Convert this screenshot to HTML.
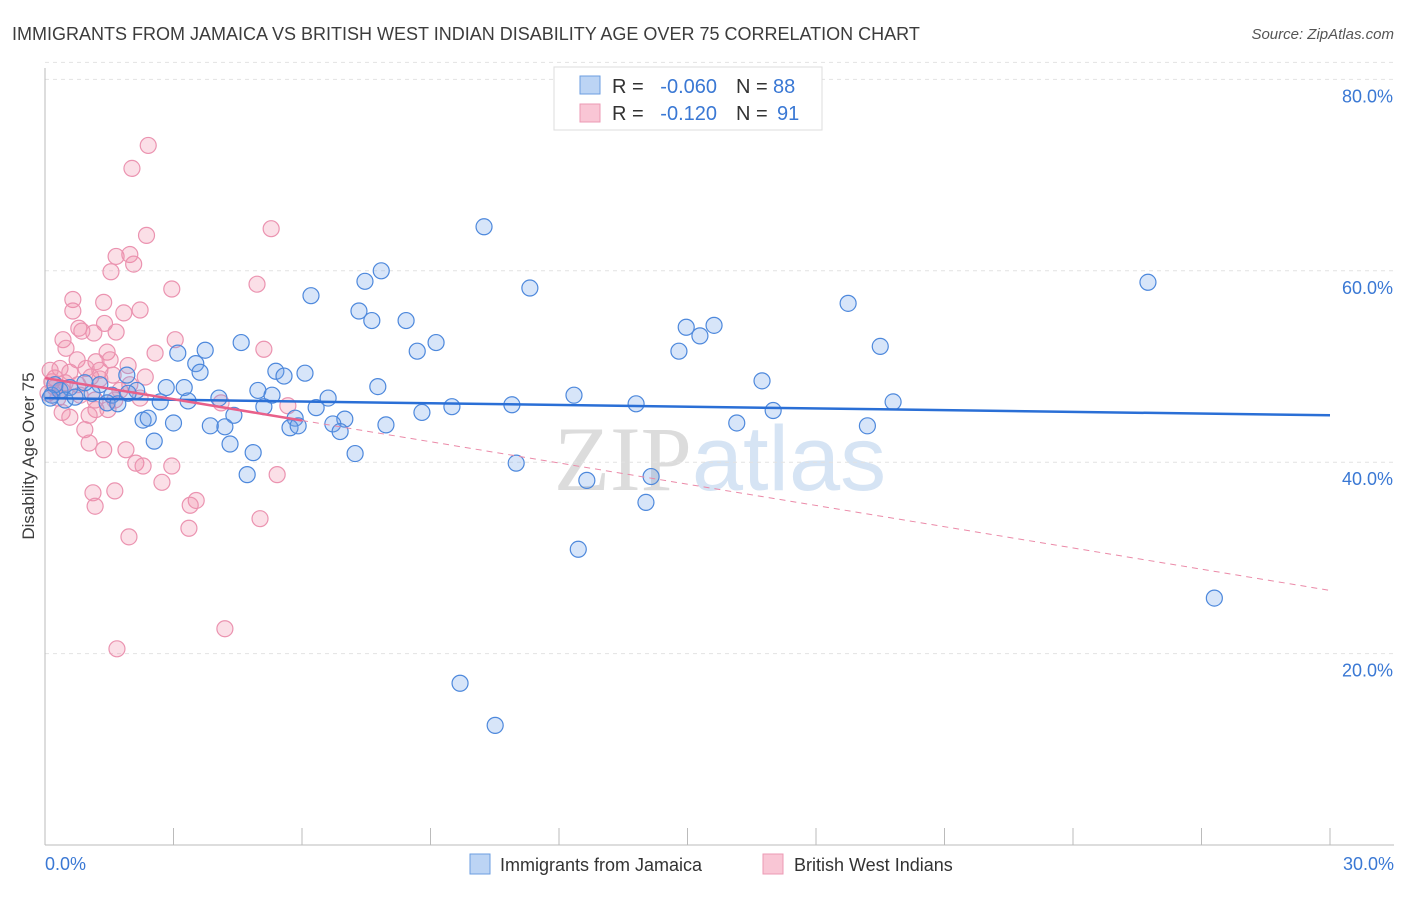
<!DOCTYPE html>
<html><head><meta charset="utf-8"><style>
body{margin:0;background:#fff;font-family:"Liberation Sans",sans-serif;}
svg text{font-family:"Liberation Sans",sans-serif;}
</style></head><body>
<svg id="chart" width="1406" height="892" viewBox="0 0 1406 892" xmlns="http://www.w3.org/2000/svg">
<text x="12" y="40" font-size="18" fill="#3c3c3c">IMMIGRANTS FROM JAMAICA VS BRITISH WEST INDIAN DISABILITY AGE OVER 75 CORRELATION CHART</text>
<text x="1394" y="39" font-size="15" fill="#555" text-anchor="end" font-style="italic">Source: ZipAtlas.com</text>
<text x="720" y="490" font-size="92" text-anchor="middle" fill="#e6e6e6"><tspan font-family="Liberation Serif" fill="#dcdcdc">ZIP</tspan><tspan fill="#d6e4f4">atlas</tspan></text>
<g id="grid"></g>
<g id="axes"></g>
<g id="pts"></g>
<g id="trends"></g>
<text transform="translate(34,456) rotate(-90)" font-size="17" fill="#3c3c3c" text-anchor="middle">Disability Age Over 75</text>
<g>
<rect x="554" y="67" width="268" height="63" fill="#fff" stroke="#ddd"/>
<rect x="580" y="76" width="20" height="18" fill="#bcd4f4" stroke="#6b9ee0"/>
<rect x="580" y="104" width="20" height="18" fill="#f9c6d5" stroke="#ec9ab4"/>
<text x="612" y="93" font-size="20" fill="#333">R =</text>
<text x="717" y="93" font-size="20" fill="#3a78d4" text-anchor="end">-0.060</text>
<text x="736" y="93" font-size="20" fill="#333">N =</text>
<text x="773" y="93" font-size="20" fill="#3a78d4">88</text>
<text x="612" y="120" font-size="20" fill="#333">R =</text>
<text x="717" y="120" font-size="20" fill="#3a78d4" text-anchor="end">-0.120</text>
<text x="736" y="120" font-size="20" fill="#333">N =</text>
<text x="777" y="120" font-size="20" fill="#3a78d4">91</text>
</g>
<g>
<rect x="470" y="854" width="20" height="20" fill="#bcd4f4" stroke="#6b9ee0"/>
<text x="500" y="871" font-size="18" fill="#333">Immigrants from Jamaica</text>
<rect x="763" y="854" width="20" height="20" fill="#f9c6d5" stroke="#ec9ab4"/>
<text x="794" y="871" font-size="18" fill="#333">British West Indians</text>
</g>
</svg>
<script>
const yTicks=[20,40,60,80];
const yTickLabels=["20.0%","40.0%","60.0%","80.0%"];
const xTicks=[0,3,6,9,12,15,18,21,24,27,30];
const xEndLabels=["0.0%","30.0%"];
const jamaicaX=[10.25,7.85,7.47,6.21,11.32,25.75,18.75,7.33,7.63,8.43,14.97,15.62,15.29,9.13,4.58,8.69,19.5,14.8,3.74,3.1,3.52,3.62,5.39,5.58,6.07,1.91,16.74,7.77,2.83,3.25,4.97,1.28,2.14,4.06,5.3,6.61,12.35,1.1,1.56,1.94,2.69,3.34,1.45,1.7,5.11,6.33,8.8,9.5,10.9,13.8,17.0,19.8,4.41,5.84,7.0,2.29,2.41,3.0,3.86,4.2,5.72,5.91,6.72,6.89,7.96,16.15,19.2,2.55,4.32,4.86,7.24,11.0,4.72,12.65,14.15,14.03,12.45,27.3,9.69,10.51,0.16,0.35,0.58,0.23,0.47,0.7,0.93,0.12];
const jamaicaY=[64.6,60.0,58.9,57.4,58.2,58.8,56.6,55.8,54.8,54.8,54.1,54.3,53.2,52.5,52.5,51.6,52.1,51.6,51.7,51.4,50.3,49.4,49.5,49.0,49.3,49.1,48.5,47.9,47.8,47.8,47.5,48.1,47.5,46.7,47.0,46.7,47.0,47.2,47.0,47.2,46.3,46.4,46.2,46.1,45.8,45.7,45.2,45.8,46.0,46.1,45.4,46.3,44.9,44.6,44.5,44.4,44.6,44.1,43.8,43.7,43.6,43.8,44.0,43.2,43.9,44.1,43.8,42.2,41.9,41.0,40.9,39.9,38.7,38.1,38.5,35.8,30.9,25.8,16.9,12.5,47.0,47.5,47.8,48.1,46.5,46.8,48.3,46.7];
const bwiX=[2.41,2.03,2.37,5.28,1.66,1.98,2.07,1.54,2.96,4.95,0.65,1.37,0.65,2.22,1.84,1.39,0.79,1.14,0.86,1.66,0.42,3.04,0.49,1.45,2.57,5.11,0.75,1.19,1.52,1.94,0.35,0.96,1.28,0.58,1.59,2.34,0.23,1.07,0.16,0.77,0.4,1.75,0.07,0.3,1.17,2.22,4.11,5.67,1.19,1.47,0.4,0.58,1.03,1.63,0.93,1.03,1.37,1.89,2.12,2.29,2.96,2.73,5.42,1.12,1.63,3.53,3.39,1.17,5.02,3.36,1.96,4.2,1.68,0.12,0.23,0.47,0.82,1.28,1.98];
const bwiY=[73.1,70.7,63.7,64.4,61.5,61.7,60.7,59.9,58.1,58.6,57.0,56.7,55.8,55.9,55.6,54.5,54.0,53.5,53.7,53.6,52.8,52.8,51.9,51.5,51.4,51.8,50.7,50.5,50.7,50.1,49.8,49.8,49.6,49.4,49.1,48.9,48.8,48.9,48.4,48.1,47.5,47.5,47.2,46.7,46.5,46.7,46.2,45.9,45.5,45.5,45.2,44.7,44.9,46.5,43.4,42.0,41.3,41.3,39.9,39.6,39.6,37.9,38.7,36.8,37.0,36.0,35.5,35.4,34.1,33.1,32.2,22.6,20.5,49.6,47.8,48.3,47.0,48.7,48.1];
const jamaicaTrend=[46.7,44.9];
const bwiTrend=[48.8,26.6];
const bwiSolidEnd=6;
const NS="http://www.w3.org/2000/svg";
const X0=45,X1=1330,Y0=845,YPX=9.57;
function sx(v){return X0+(v/30)*(X1-X0);}
function sy(v){return Y0-v*YPX;}
function mk(tag,attrs,parent){const e=document.createElementNS(NS,tag);for(const k in attrs)e.setAttribute(k,attrs[k]);parent.appendChild(e);return e;}
const gridG=document.getElementById('grid'),axesG=document.getElementById('axes'),ptsG=document.getElementById('pts'),trG=document.getElementById('trends');
yTicks.forEach((t,i)=>{
 const l=mk('line',{x1:X0,x2:1394,y1:sy(t),y2:sy(t),stroke:'#e2e2e2','stroke-dasharray':'4,4'},gridG);
 
 
 const tx=mk('text',{x:1393,y:sy(t)+23,'font-size':18,fill:'#3a78d4','text-anchor':'end'},axesG);
 tx.textContent=yTickLabels[i];
 
 
});
const topGrid=mk('line',{x1:X0,x2:1394,y1:sy(80)-17,y2:sy(80)-17,stroke:'#e2e2e2','stroke-dasharray':'4,4'},gridG);


const yAxisLine=mk('line',{x1:X0,x2:X0,y1:68,y2:Y0,stroke:'#bbb'},axesG);


const xAxisLine=mk('line',{x1:X0,x2:1394,y1:Y0,y2:Y0,stroke:'#bbb'},axesG);


xTicks.forEach(t=>{
 const l=mk('line',{x1:sx(t),x2:sx(t),y1:828,y2:Y0,stroke:'#bbb'},axesG);
 
 
});
[[0,'start',45],[30,'end',1394]].forEach((a,i)=>{
 const tx=mk('text',{x:a[2],y:870,'font-size':18,fill:'#3a78d4','text-anchor':a[1]},axesG);
 tx.textContent=xEndLabels[i];
 
 
});
function dots(xs,ys,fill,stroke,name){
 xs.forEach((x,i)=>{
  const c=mk('circle',{cx:sx(x),cy:sy(ys[i]),r:8,fill:fill,stroke:stroke,'stroke-width':1.2},ptsG);
  
  
 });
}
dots(bwiX,bwiY,'rgba(242,140,170,0.28)','#eb93b0','bwi-point');
dots(jamaicaX,jamaicaY,'rgba(110,160,235,0.28)','#4d88dc','jamaica-point');
const jl=mk('line',{x1:sx(0),y1:sy(jamaicaTrend[0]),x2:sx(30),y2:sy(jamaicaTrend[1]),stroke:'#2a6fd6','stroke-width':2.5},trG);


const ym=bwiTrend[0]+(bwiTrend[1]-bwiTrend[0])*bwiSolidEnd/30;
const bl=mk('line',{x1:sx(0),y1:sy(bwiTrend[0]),x2:sx(bwiSolidEnd),y2:sy(ym),stroke:'#e8608a','stroke-width':2.5},trG);


const bd=mk('line',{x1:sx(bwiSolidEnd),y1:sy(ym),x2:sx(30),y2:sy(bwiTrend[1]),stroke:'#eb8aa8','stroke-width':1,'stroke-dasharray':'6,5'},trG);


</script>
</body></html>
